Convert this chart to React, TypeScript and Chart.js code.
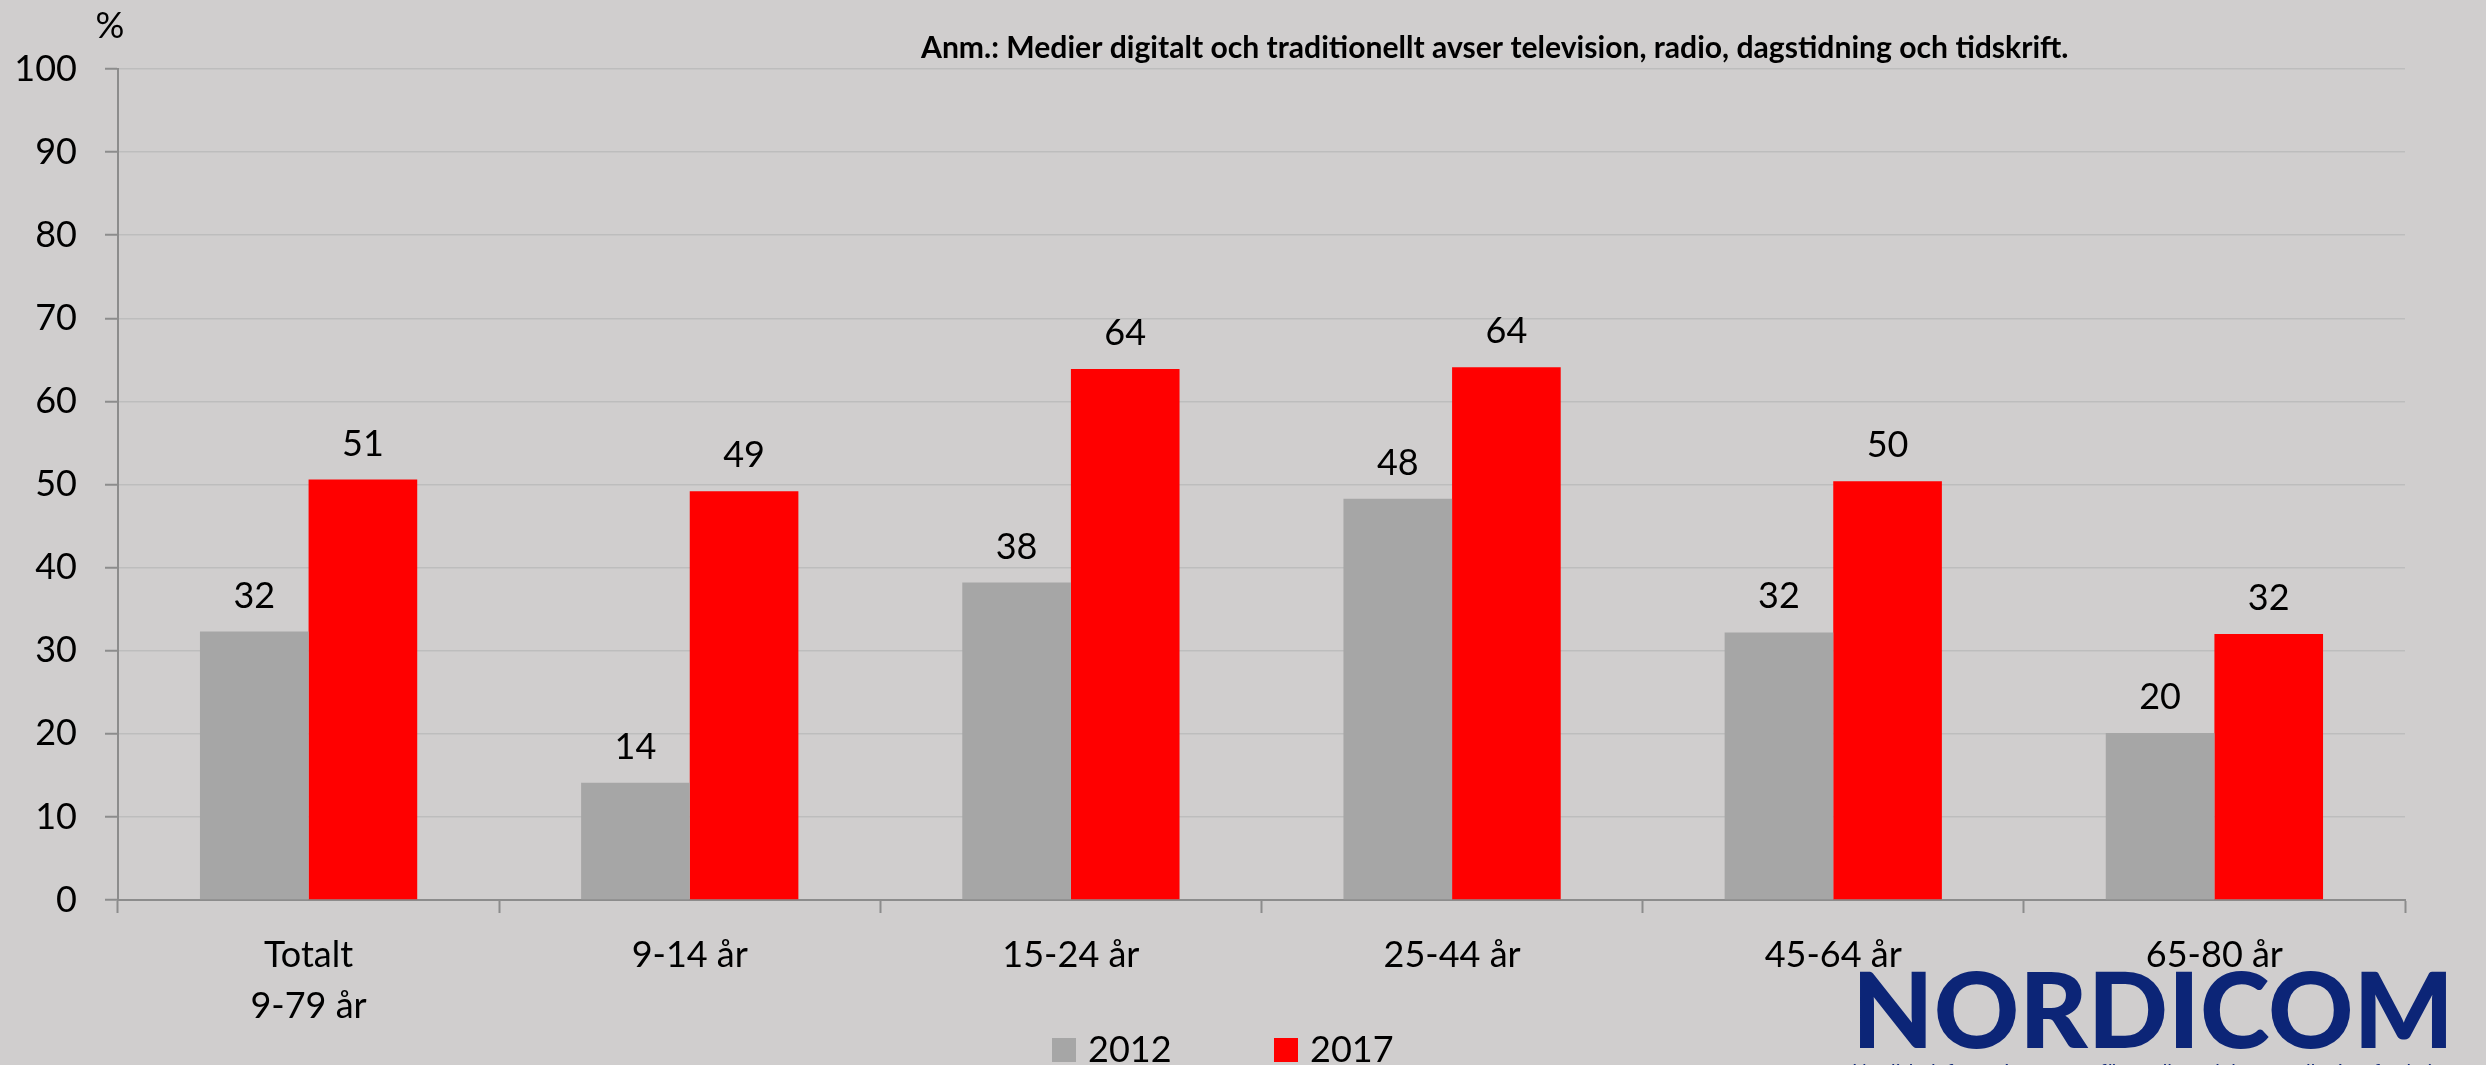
import React, { useEffect, useRef } from "react";
import { Chart, registerables } from "chart.js";

Chart.register(...registerables);

const categories: string[][] = [
  ["Totalt", "9-79 år"],
  ["9-14 år"],
  ["15-24 år"],
  ["25-44 år"],
  ["45-64 år"],
  ["65-80 år"],
];
const values2012: number[] = [32.3, 14.1, 38.2, 48.3, 32.2, 20.1];
const values2017: number[] = [50.6, 49.2, 63.9, 64.1, 50.4, 32.0];
const seriesLabels: string[] = ["2012", "2017"];
const seriesColors: string[] = ["#a6a6a6", "#ff0000"];
const yTicks: number[] = [0, 10, 20, 30, 40, 50, 60, 70, 80, 90, 100];
const noteText = "Anm.: Medier digitalt och traditionellt avser television, radio, dagstidning och tidskrift.";
const unitText = "%";
const logoText = "NORDICOM";
const logoSub = "Nordiskt informationscenter för medie- och kommunikationsforskning";

const FONT = "Lato, 'Open Sans', sans-serif";
const BG = "#d0cece";
const AXIS = "#8c8c8c";
const GRID = "#bdbdbd";

function fitFont(ctx: CanvasRenderingContext2D, text: string, weight: string, width: number): number {
  ctx.font = `${weight} 100px ${FONT}`;
  const w = ctx.measureText(text).width;
  return (100 * width) / w;
}

const decorPlugin = {
  id: "decor",
  beforeDraw(chart: any) {
    const ctx = chart.ctx as CanvasRenderingContext2D;
    ctx.save();
    ctx.fillStyle = BG;
    ctx.fillRect(0, 0, chart.width, chart.height);
    ctx.restore();
  },
  afterDraw(chart: any) {
    const ctx = chart.ctx as CanvasRenderingContext2D;
    const area = chart.chartArea;
    ctx.save();
    // data labels
    ctx.fillStyle = "#000";
    ctx.font = `36px ${FONT}`;
    ctx.textAlign = "center";
    ctx.textBaseline = "alphabetic";
    chart.data.datasets.forEach((ds: any, di: number) => {
      const meta = chart.getDatasetMeta(di);
      meta.data.forEach((el: any, i: number) => {
        const v = ds.data[i] as number;
        ctx.fillText(String(Math.round(v)), el.x, el.y - 24);
      });
    });
    // unit
    ctx.font = `36px ${FONT}`;
    ctx.fillText(unitText, area.left - 8, 38);
    // note
    const ns = fitFont(ctx, noteText, "bold", 1148);
    ctx.font = `bold ${ns}px ${FONT}`;
    ctx.textAlign = "left";
    ctx.fillText(noteText, 921, 58);
    // legend
    ctx.font = `36px ${FONT}`;
    const boxX = [1052, 1274];
    chart.data.datasets.forEach((ds: any, di: number) => {
      ctx.fillStyle = ds.backgroundColor;
      ctx.fillRect(boxX[di], 1038, 24, 24);
      ctx.fillStyle = "#000";
      ctx.textAlign = "left";
      ctx.fillText(ds.label, boxX[di] + 36, 1062);
    });
    // logo
    const ls = fitFont(ctx, logoText, "900", 602);
    ctx.font = `900 ${ls}px ${FONT}`;
    ctx.fillStyle = "#0c2577";
    ctx.textAlign = "left";
    ctx.textBaseline = "alphabetic";
    ctx.fillText(logoText, 1852, 1048);
    const ss = fitFont(ctx, logoSub, "normal", 602);
    ctx.font = `${ss}px ${FONT}`;
    ctx.textBaseline = "top";
    ctx.fillText(logoSub, 1852, 1062);
    ctx.restore();
  },
};

export default function App() {
  const ref = useRef<HTMLCanvasElement | null>(null);
  useEffect(() => {
    if (!ref.current) return;
    const chart = new Chart(ref.current, {
      type: "bar",
      data: {
        labels: categories,
        datasets: [
          { label: seriesLabels[0], data: values2012, backgroundColor: seriesColors[0], categoryPercentage: 0.57, barPercentage: 1.0 },
          { label: seriesLabels[1], data: values2017, backgroundColor: seriesColors[1], categoryPercentage: 0.57, barPercentage: 1.0 },
        ],
      },
      options: {
        animation: false,
        responsive: true,
        maintainAspectRatio: false,
        layout: { padding: { left: 0, right: 81, top: 69, bottom: 0 } },
        plugins: {
          legend: { display: false },
          title: { display: false },
          tooltip: { enabled: false },
        },
        scales: {
          x: {
            afterFit: (s: any) => { s.height = 165; },
            grid: {
              display: true,
              drawOnChartArea: false,
              drawTicks: true,
              tickLength: 13,
              tickColor: AXIS,
              tickWidth: 2,
              offset: true,
            },
            border: { display: true, color: AXIS, width: 2 },
            ticks: {
              color: "#000",
              padding: 16,
              font: { family: FONT, size: 36, lineHeight: 1.44 },
              maxRotation: 0,
              autoSkip: false,
            },
          },
          y: {
            min: 0,
            max: 100,
            afterFit: (s: any) => { s.width = 118; },
            afterBuildTicks: (s: any) => { s.ticks = yTicks.map((v) => ({ value: v })); },
            grid: {
              color: GRID,
              lineWidth: 1.5,
              tickLength: 13,
              tickColor: AXIS,
              tickWidth: 2,
            },
            border: { display: true, color: AXIS, width: 2 },
            ticks: {
              color: "#000",
              padding: 28,
              font: { family: FONT, size: 36 },
            },
          },
        },
      },
      plugins: [decorPlugin],
    } as any);
    return () => chart.destroy();
  }, []);
  return (
    <div style={{ position: "fixed", left: 0, top: 0, width: 2486, height: 1065, background: BG }}>
      <canvas ref={ref} />
    </div>
  );
}
